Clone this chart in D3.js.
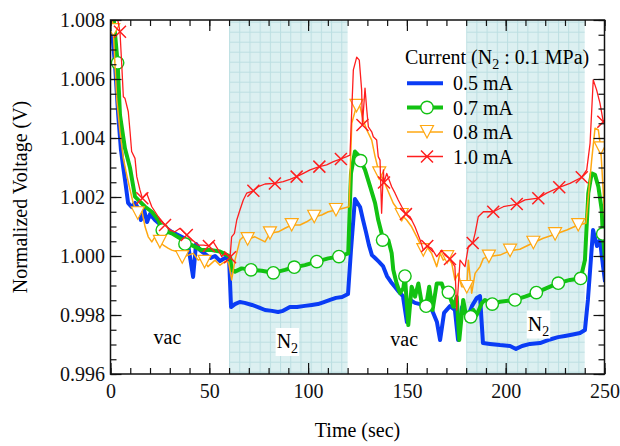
<!DOCTYPE html>
<html>
<head>
<meta charset="utf-8">
<script src="https://cdn.jsdelivr.net/npm/d3@7"></script>
<style>
  body { margin: 0; background: #fff; }
  svg { display: block; font-family: "Liberation Serif", "Times New Roman", serif; }
</style>
</head>
<body>
<div id="chart"></div>
<script>
/**  DATA  **/
let gasPeriods = [[60, 120], [180, 240]];   // N2 let in (sec)
let xMajor = [0, 50, 100, 150, 200, 250];
let yMajor = [0.996, 0.998, 1.000, 1.002, 1.004, 1.006, 1.008];
let legendTitle = "Current (N";
let legendLabels = ["0.5 mA", "0.7 mA", "0.8 mA", "1.0 mA"];

// [time (sec), normalized voltage (V)]
let current05 = [
    [0, 1.0082], [2.3, 1.00647], [3.9, 1.00478], [5.3, 1.00359], [6.5, 1.00298], [7.7, 1.00241],
    [8.9, 1.0018], [10.7, 1.00166], [12.4, 1.0018], [13.9, 1.00163], [15.4, 1.00122], [17, 1.00156],
    [18.5, 1.00115], [20, 1.00142], [22.5, 1.00122], [25, 1.00108], [28.1, 1.00095], [31.1, 1.00081],
    [34.2, 1.00071], [37.2, 1.00061], [39.2, 1.00041], [41.8, 0.99929], [43.3, 1.00041], [45.3, 1.0002],
    [47.8, 1.00007], [50.4, 0.99993], [52.9, 1.0], [55.4, 0.99983], [57.9, 0.99993], [60, 0.99993],
    [61, 0.99827], [63, 0.99837], [65.4, 0.99844], [67.9, 0.99841], [71.6, 0.99834], [74.6, 0.99827],
    [78.2, 0.99817], [81.7, 0.99814], [84.8, 0.9981], [87.3, 0.99814], [90.8, 0.99827], [94.4, 0.99827],
    [98.4, 0.99831], [101.9, 0.99834], [105, 0.99837], [108, 0.99844], [111.1, 0.99851], [114.1, 0.99858],
    [117.2, 0.99861], [120.2, 0.99871], [121.7, 1.0002], [123.7, 1.00193], [126.3, 1.00166], [127.8, 1.00122],
    [129.3, 1.00081], [130.8, 1.00037], [132.3, 1.00003], [133.9, 0.99993], [135.9, 0.9998], [137.9, 0.99966],
    [139.9, 0.99932], [141.9, 0.99912], [144, 0.99895], [146, 0.99878], [148, 0.99864], [150, 0.99776],
    [151.6, 0.99851], [154.1, 0.99841], [156.6, 0.99837], [159.7, 0.99827], [162.7, 0.99817], [165.2, 0.99776],
    [166.8, 0.99715], [168.8, 0.99807], [171.8, 0.9983], [174.3, 0.99817], [175.9, 0.99715], [177.9, 0.99827],
    [180.9, 0.99797], [182.9, 0.9983], [185.4, 0.99858], [187, 0.99864], [188.5, 0.99705], [192, 0.99702],
    [197.1, 0.99698], [202.2, 0.99695], [205.2, 0.99685], [208.3, 0.99695], [212.3, 0.99702], [217.4, 0.99705],
    [222.4, 0.99717], [226.5, 0.99725], [230, 0.99729], [234, 0.99734], [237.6, 0.99739], [240.1, 0.99749],
    [241.6, 0.99851], [244.2, 1.00088], [246.2, 1.00034], [247.7, 1.00054], [249.2, 0.99969], [250.3, 0.99912]
];

let current07 = [
    [1, 1.0085], [3.6, 1.00655], [4.8, 1.00478], [7.3, 1.00365], [9.9, 1.00298], [12.4, 1.00201],
    [14.9, 1.00184], [17.5, 1.00167], [20.9, 1.0015], [24.2, 1.00122], [26.2, 1.00088], [31, 1.00077],
    [35.2, 1.0006], [37.7, 1.00041], [41.1, 1.00037], [46.2, 1.0002], [51.2, 1.0002], [55.4, 1.00015],
    [60.5, 0.99998], [61.3, 0.99953], [63, 0.99947], [66.4, 0.99958], [71.1, 0.99953], [76.5, 0.9995],
    [82.4, 0.99943], [88.3, 0.99953], [93, 0.99962], [98.4, 0.99969], [104.4, 0.99981], [110.2, 0.99992],
    [115.6, 0.99998], [120.3, 1.00009], [121.7, 1.0028], [123.7, 1.00354], [125.4, 1.00342], [126.6, 1.00323],
    [128.8, 1.00292], [131.4, 1.00235], [133.9, 1.00179], [135.5, 1.00122], [137.2, 1.00077], [137.7, 1.00054],
    [140.6, 1.00054], [142.3, 1.00009], [143.1, 0.99953], [144.8, 0.99907], [146.5, 0.99874], [148.2, 0.99891],
    [149, 0.99932], [150.7, 0.99766], [152.4, 0.99896], [154.1, 0.99862], [155.8, 0.99907], [157.5, 0.9984],
    [159.7, 0.9983], [161.3, 0.99896], [163, 0.99817], [165.1, 0.99907], [167.6, 0.99907], [169.3, 0.99874],
    [171, 0.99877], [173.5, 0.99828], [175.2, 0.99862], [176.5, 0.99715], [178.5, 0.99851], [180.3, 0.99783],
    [182.3, 0.99794], [183.6, 0.99817], [185.3, 0.998], [187.9, 0.9984], [189.5, 0.99851], [193.2, 0.99837],
    [197.1, 0.99845], [204.7, 0.99851], [209.8, 0.99862], [215.5, 0.99876], [220.7, 0.99891], [226.6, 0.99908],
    [232.5, 0.99919], [237.9, 0.99924], [240.1, 0.99986], [241.8, 1.00213], [243.5, 1.0028], [245.2, 1.00275],
    [246.9, 1.00235], [248.6, 1.00156], [249.1, 1.00075], [250.3, 0.99986]
];
let marks07 = [3.6, 26.2, 37.7, 71.1, 82.4, 93, 104.4, 115.6, 126.6, 137.7, 149, 159.7, 171, 182.3,
               193.2, 204.7, 215.5, 226.6, 237.9, 249.1];

let current08 = [
    [0.5, 1.0083], [1.4, 1.00766], [3.1, 1.00535], [4.8, 1.00421], [6.5, 1.00331], [8.2, 1.00275],
    [9.9, 1.00224], [11.5, 1.00179], [13.8, 1.00145], [15.8, 1.00156], [17.5, 1.00099], [19.1, 1.00065],
    [20.9, 1.00048], [22.5, 1.00065], [23.4, 1.00048], [25, 1.00048], [26.7, 1.00037], [29.3, 1.00026],
    [31, 1.0002], [33.5, 1.00015], [36.3, 0.99996], [39.4, 1.00003], [41.9, 1.00009], [44.4, 0.99986],
    [46.2, 0.99992], [47.6, 0.9998], [49.3, 0.99964], [52.9, 0.99986], [55.4, 0.99969], [57.9, 0.99981],
    [59.7, 0.9998], [61.3, 0.99919], [63, 0.99986], [65.5, 1.00054], [67.2, 1.00065], [69.4, 1.00057],
    [73.1, 1.00065], [76.5, 1.00054], [78.2, 1.00048], [80.7, 1.00077], [84.9, 1.00082], [88.3, 1.00094],
    [91.7, 1.00105], [95.9, 1.00105], [99.3, 1.00116], [103.1, 1.00133], [106.9, 1.00139], [110.2, 1.0015],
    [114.1, 1.00156], [117.8, 1.00162], [120.7, 1.00167], [122.1, 1.0045], [124.5, 1.00509], [126.3, 1.00506],
    [127.9, 1.00461], [129.7, 1.00427], [132.2, 1.00393], [133.9, 1.00337], [136, 1.0028], [138.1, 1.00258],
    [140.6, 1.00218], [143.1, 1.00179], [147.4, 1.00139], [149.9, 1.00122], [152.4, 1.00099], [155, 1.00065],
    [158.3, 1.0002], [160, 1.00032], [162.5, 1.00009], [165.1, 0.99964], [166.8, 1.00009], [168.4, 0.99986],
    [170.4, 0.99996], [172.7, 0.99975], [174.3, 0.99919], [176, 0.99941], [177.7, 0.99896], [180.3, 0.99895],
    [181.1, 0.99986], [182.8, 0.99874], [184.5, 0.99941], [187, 0.99964], [188.7, 0.99992], [191.5, 0.99998],
    [197.1, 1.00003], [202.2, 1.00018], [207.2, 1.00023], [214, 1.00045], [219, 1.0006], [225, 1.00074],
    [230.9, 1.00088], [236.7, 1.00105], [240.6, 1.00111], [243.5, 1.00325], [245.2, 1.00433], [246.9, 1.00427],
    [248.1, 1.00365], [249.4, 1.00213], [250.3, 1.00099]
];
let marks08 = [1.4, 13.8, 25, 36.3, 47.6, 69.4, 80.7, 91.7, 103.1, 114.1, 124.5, 136, 147.4, 158.3,
               170.4, 180.3, 191.5, 202.2, 214, 225, 236.7, 248.1];

let current10 = [
    [2, 1.0086], [4.8, 1.0076], [5.7, 1.00647], [6.5, 1.0054], [7.3, 1.00535], [9, 1.00489],
    [9.9, 1.00421], [10.7, 1.00354], [12.4, 1.00331], [13.3, 1.00269], [14.9, 1.00224], [16.1, 1.00196],
    [18.3, 1.00213], [20.9, 1.00167], [24.2, 1.00133], [27.6, 1.00105], [30.1, 1.00088], [32.6, 1.00082],
    [35.2, 1.00094], [38.6, 1.00071], [41.4, 1.00054], [44.4, 1.00037], [47, 1.00037], [49.8, 1.00034],
    [52, 1.00048], [54.6, 1.0002], [56.3, 0.99998], [57.9, 1.00009], [60.5, 0.99996], [61.3, 1.00065],
    [62.7, 1.00077], [63.9, 1.00122], [65.5, 1.00156], [67.2, 1.0019], [68.9, 1.00213], [72.3, 1.00221],
    [74.8, 1.00235], [78.2, 1.00244], [83.2, 1.00246], [87.4, 1.00252], [90.8, 1.0026], [94.2, 1.00269],
    [97.6, 1.0028], [101, 1.00292], [105.7, 1.00303], [109.4, 1.00309], [112.8, 1.0032], [116.6, 1.00329],
    [119.5, 1.00337], [121.2, 1.00342], [122.9, 1.00631], [124.6, 1.00674], [125.9, 1.00664], [127.1, 1.00563],
    [127.5, 1.00444], [128.8, 1.00569], [129.7, 1.00495], [130.5, 1.00438], [132.2, 1.00421], [133, 1.00404],
    [134.7, 1.00393], [135.5, 1.00337], [136.4, 1.00325], [137.2, 1.00145], [138.1, 1.00292], [138.4, 1.00249],
    [139.8, 1.0028], [142.3, 1.00235], [144, 1.00213], [145.6, 1.0019], [147.4, 1.00167], [149.5, 1.00142],
    [151.6, 1.00133], [154.1, 1.00099], [156.7, 1.00054], [158.3, 1.0002], [160.3, 1.00034], [162.5, 1.00026],
    [165.1, 0.99998], [167.6, 1.0002], [169.3, 1.00003], [171.8, 0.9999], [174.3, 0.99964], [175.2, 0.99817],
    [176.9, 0.99986], [179.4, 0.99964], [181.1, 1.00032], [183.3, 1.00044], [184.5, 1.00077], [186.1, 1.00133],
    [188.7, 1.0015], [193.7, 1.0015], [198.8, 1.00167], [205.6, 1.00176], [209.8, 1.0019], [216.5, 1.00196],
    [220.7, 1.00213], [227.1, 1.00233], [232.5, 1.00246], [238.5, 1.00267], [241, 1.00292], [242.7, 1.00382],
    [244.3, 1.00597], [246, 1.00563], [247.7, 1.00518], [249.4, 1.00455], [250.3, 1.00461]
];
let marks10 = [4.8, 16.1, 27.6, 38.6, 49.8, 60.5, 72.3, 83.2, 94.2, 105.7, 116.6, 127.5, 138.4, 149.5,
               160.3, 171.8, 183.3, 193.7, 205.6, 216.5, 227.1, 238.5, 249.4];

/**  LAYOUT  **/
let width = 620, height = 446;
let frame = { left: 110.5, right: 604.5, top: 20, bottom: 374 };

let series = [
    { data: current05, marks: [], color: '#0a3cf5', width: 4, symbol: null },
    { data: current07, marks: marks07, color: '#12c212', width: 4, symbol: 'circle' },
    { data: current08, marks: marks08, color: '#ffa812', width: 1.5, symbol: 'triangle' },
    { data: current10, marks: marks10, color: '#ff1e1e', width: 1.3, symbol: 'cross' }
];

let xScale = d3.scaleLinear().domain([0, 250]).range([frame.left, frame.right]),
    yScale = d3.scaleLinear().domain([0.996, 1.008]).range([frame.bottom, frame.top]);

let svg = d3.select('#chart').append('svg')
    .attr('width', width)
    .attr('height', height);

let defs = svg.append('defs');
defs.append('clipPath').attr('id', 'plot-clip')
    .append('rect')
    .attr('x', frame.left).attr('y', frame.top)
    .attr('width', frame.right - frame.left)
    .attr('height', frame.bottom - frame.top);

// hatched background for the N2 periods, one pattern per band so the grid starts at its edge
gasPeriods.forEach((p, i) => {
    let pat = defs.append('pattern')
        .attr('id', 'gas-grid-' + i)
        .attr('patternUnits', 'userSpaceOnUse')
        .attr('x', xScale(p[0]))
        .attr('y', frame.top + 1.7)
        .attr('width', 10.2)
        .attr('height', 10);
    pat.append('rect').attr('width', 10.2).attr('height', 10).attr('fill', '#dcf0f1');
    pat.append('path').attr('d', 'M0.5,0V10M0,0.5H10.2')
        .attr('stroke', '#bcdfe2').attr('stroke-width', 1).attr('fill', 'none');
});

svg.selectAll('rect.gas')
    .data(gasPeriods)
    .enter().append('rect')
    .attr('class', 'gas')
    .attr('x', d => xScale(d[0]))
    .attr('y', frame.top)
    .attr('width', d => xScale(d[1]) - xScale(d[0]))
    .attr('height', frame.bottom - frame.top)
    .attr('fill', (d, i) => 'url(#gas-grid-' + i + ')');

/**  MARKERS  **/
function drawSymbol(g, kind, color) {
    if (kind === 'circle') {
        g.append('circle').attr('r', 6.2)
            .attr('fill', '#fff').attr('stroke', color).attr('stroke-width', 1.4);
    } else if (kind === 'triangle') {
        g.append('path').attr('d', 'M-6.5,-6.5L6.5,-6.5L0,6Z')
            .attr('fill', '#fff').attr('stroke', color).attr('stroke-width', 1.2);
    } else if (kind === 'cross') {
        g.append('path').attr('d', 'M-6,-6L6,6M-6,6L6,-6')
            .attr('fill', 'none').attr('stroke', color).attr('stroke-width', 1.5);
    }
}

/**  LINES  **/
let line = d3.line()
    .x(d => xScale(d[0]))
    .y(d => yScale(d[1]));

let plot = svg.append('g').attr('clip-path', 'url(#plot-clip)');

series.forEach(s => {
    plot.append('path')
        .datum(s.data)
        .attr('fill', 'none')
        .attr('stroke', s.color)
        .attr('stroke-width', s.width)
        .attr('stroke-linejoin', 'round')
        .attr('d', line);

    let pts = s.data.filter(d => s.marks.indexOf(d[0]) >= 0);
    plot.selectAll(null)
        .data(pts)
        .enter().append('g')
        .attr('transform', d => 'translate(' + xScale(d[0]) + ',' + yScale(d[1]) + ')')
        .each(function () { drawSymbol(d3.select(this), s.symbol, s.color); });
});

/**  ANNOTATIONS  **/
let notes = [
    { text: 'vac', sub: null, t: 28.8, y: 343.5 },
    { text: 'N', sub: '2', t: 89.5, y: 348 },
    { text: 'vac', sub: null, t: 148.6, y: 345.5 },
    { text: 'N', sub: '2', t: 216.6, y: 330.5 }
];

notes.forEach(n => {
    let g = svg.append('g');
    let txt = g.append('text')
        .attr('x', xScale(n.t))
        .attr('y', n.y)
        .attr('text-anchor', 'middle')
        .attr('font-size', 20)
        .text(n.text);
    if (n.sub) {
        txt.append('tspan').attr('font-size', 14).attr('dy', 5).text(n.sub);
        let bb = txt.node().getBBox();
        g.insert('rect', 'text')
            .attr('x', bb.x - 1).attr('y', bb.y - 2)
            .attr('width', bb.width + 2).attr('height', bb.height + 2)
            .attr('fill', '#fff');
    }
});

/**  AXES  **/
function styleAxis(g) {
    g.select('.domain').remove();
    g.selectAll('line').attr('stroke', '#111').attr('stroke-width', 1.2);
    g.selectAll('text').attr('font-family', '"Liberation Serif", serif').attr('font-size', 20).attr('fill', '#111');
}

let xMinor = xScale.ticks(25), yMinor = yScale.ticks(24);

svg.append('g').attr('transform', 'translate(0,' + frame.bottom + ')')
    .call(d3.axisBottom(xScale).tickValues(xMinor).tickSize(-6).tickFormat(''))
    .call(styleAxis);
svg.append('g').attr('transform', 'translate(0,' + frame.bottom + ')')
    .call(d3.axisBottom(xScale).tickValues(xMajor).tickSize(-11).tickPadding(10).tickFormat(d3.format('d')))
    .call(styleAxis);
svg.append('g').attr('transform', 'translate(0,' + frame.top + ')')
    .call(d3.axisTop(xScale).tickValues(xMinor).tickSize(-6).tickFormat(''))
    .call(styleAxis);
svg.append('g').attr('transform', 'translate(0,' + frame.top + ')')
    .call(d3.axisTop(xScale).tickValues(xMajor).tickSize(-11).tickFormat(''))
    .call(styleAxis);

svg.append('g').attr('transform', 'translate(' + frame.left + ',0)')
    .call(d3.axisLeft(yScale).tickValues(yMinor).tickSize(-6).tickFormat(''))
    .call(styleAxis);
svg.append('g').attr('transform', 'translate(' + frame.left + ',0)')
    .call(d3.axisLeft(yScale).tickValues(yMajor).tickSize(-11).tickPadding(5.5).tickFormat(d3.format('.3f')))
    .call(styleAxis);
svg.append('g').attr('transform', 'translate(' + frame.right + ',0)')
    .call(d3.axisRight(yScale).tickValues(yMinor).tickSize(-6).tickFormat(''))
    .call(styleAxis);
svg.append('g').attr('transform', 'translate(' + frame.right + ',0)')
    .call(d3.axisRight(yScale).tickValues(yMajor).tickSize(-11).tickFormat(''))
    .call(styleAxis);

svg.append('rect') // plot frame
    .attr('x', frame.left).attr('y', frame.top)
    .attr('width', frame.right - frame.left)
    .attr('height', frame.bottom - frame.top)
    .attr('fill', 'none')
    .attr('stroke', '#111')
    .attr('stroke-width', 1.5);

svg.append('text')
    .attr('x', (frame.left + frame.right) / 2)
    .attr('y', 437)
    .attr('text-anchor', 'middle')
    .attr('font-size', 20)
    .text('Time (sec)');

svg.append('text')
    .attr('transform', 'translate(27,' + (frame.top + frame.bottom) / 2 + ') rotate(-90)')
    .attr('text-anchor', 'middle')
    .attr('font-size', 20)
    .text('Normalized Voltage (V)');

/**  LEGEND  **/
let legend = svg.append('g');
let title = legend.append('text').attr('x', 405).attr('y', 63.5).attr('font-size', 20).text(legendTitle);
title.append('tspan').attr('font-size', 14).attr('dy', 5).text('2');
title.append('tspan').attr('dy', -5).text(' : 0.1 MPa)');

let legendY = [83.3, 107.5, 132, 156.5];
series.forEach((s, i) => {
    let row = legend.append('g').attr('transform', 'translate(0,' + legendY[i] + ')');
    row.append('line')
        .attr('x1', 407).attr('x2', 443)
        .attr('stroke', s.color).attr('stroke-width', s.width);
    if (s.symbol) {
        drawSymbol(row.append('g').attr('transform', 'translate(427,0)'), s.symbol, s.color);
    }
    row.append('text')
        .attr('x', 453).attr('y', 7)
        .attr('font-size', 20)
        .text(legendLabels[i]);
});
</script>
</body>
</html>
